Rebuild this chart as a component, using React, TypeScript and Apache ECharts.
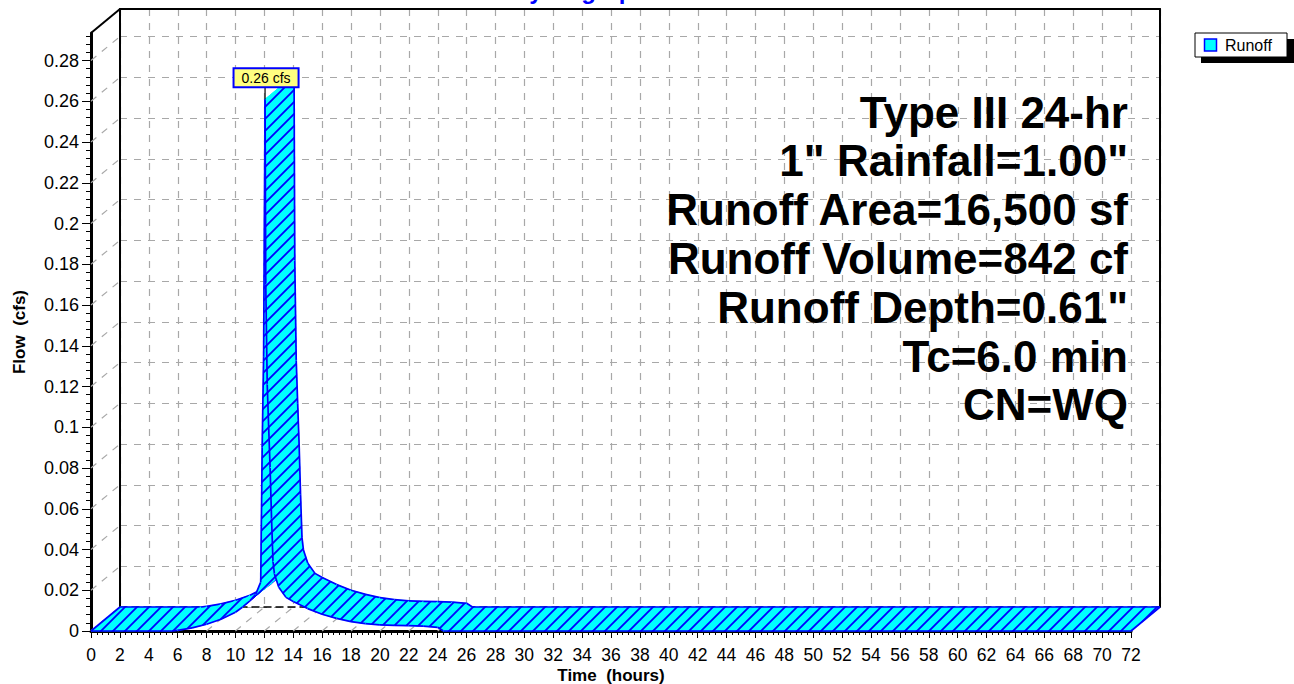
import React, { useEffect, useRef } from "react";
import * as echarts from "echarts";

// ---------------- data ----------------
const timeHours = [0, 5.6, 6.0, 7.0, 8.0, 9.0, 10.0, 10.5, 11.0, 11.4, 11.75, 11.85, 11.95, 12.05, 12.1, 12.2, 12.3, 12.4, 12.5, 12.6, 12.7, 13.0, 13.5, 14.0, 15.0, 16.0, 17.0, 18.0, 19.0, 20.0, 21.0, 22.0, 23.0, 24.0, 24.4, 72];
const flowCfs = [0, 0, 0.0003, 0.0015, 0.0033, 0.0058, 0.0092, 0.0118, 0.0148, 0.018, 0.024, 0.09, 0.135, 0.261, 0.17, 0.121, 0.1, 0.08, 0.055, 0.034, 0.028, 0.0215, 0.0165, 0.0145, 0.011, 0.0082, 0.0062, 0.0046, 0.0036, 0.003, 0.0028, 0.0026, 0.0024, 0.0018, 0, 0];
const xTickHours = [0, 2, 4, 6, 8, 10, 12, 14, 16, 18, 20, 22, 24, 26, 28, 30, 32, 34, 36, 38, 40, 42, 44, 46, 48, 50, 52, 54, 56, 58, 60, 62, 64, 66, 68, 70, 72];
const yTickCfs = [0, 0.02, 0.04, 0.06, 0.08, 0.1, 0.12, 0.14, 0.16, 0.18, 0.2, 0.22, 0.24, 0.26, 0.28];
const infoLines = ["Type III 24-hr", '1" Rainfall=1.00"', "Runoff Area=16,500 sf", "Runoff Volume=842 cf", 'Runoff Depth=0.61"', "Tc=6.0 min", "CN=WQ"];
const seriesName = "Runoff";
const chartTitle = "Hydrograph";
const xAxisTitle = "Time  (hours)";
const yAxisTitle = "Flow  (cfs)";
const peakUnit = "cfs";

// ---------------- layout ----------------
const FRONT_LEFT = 91;
const FRONT_TOP = 33;
const PLOT_W = 1040;
const PLOT_H = 598;
const DEPTH_X = 29;
const DEPTH_Y = 24;
const X_MAX = 72;
const Y_MAX = 0.2935;
const FONT = "'Liberation Sans', Arial, Helvetica, sans-serif";
const BLUE = "#0000FF";
const CYAN = "#00FFFF";
const GRID_GRAY = "#a8a8a8";

function makeHatch(): string {
  const c = document.createElement("canvas");
  c.width = 12;
  c.height = 12;
  const g = c.getContext("2d")!;
  g.fillStyle = CYAN;
  g.fillRect(0, 0, 12, 12);
  g.strokeStyle = BLUE;
  g.lineWidth = 1.8;
  g.beginPath();
  g.moveTo(-2, 2); g.lineTo(2, -2);
  g.moveTo(-2, 14); g.lineTo(14, -2);
  g.moveTo(10, 14); g.lineTo(14, 10);
  g.stroke();
  return c.toDataURL();
}

export default function App() {
  const ref = useRef<HTMLDivElement>(null);

  useEffect(() => {
    if (!ref.current) return;
    const chart = echarts.init(ref.current, undefined, { renderer: "svg" });
    const hatch = { image: makeHatch(), repeat: "repeat", imageWidth: 12, imageHeight: 12 };

    const segments: number[][] = [];
    for (let i = 0; i < timeHours.length - 1; i++) {
      segments.push([timeHours[i], flowCfs[i], timeHours[i + 1], flowCfs[i + 1]]);
    }
    const nSeg = segments.length;

    let peakIdx = 0;
    flowCfs.forEach((v, i) => { if (v > flowCfs[peakIdx]) peakIdx = i; });

    const frameData: number[][] = [
      ...xTickHours.map((t) => [t, 0, 0]),
      ...yTickCfs.map((v) => [0, v, 1]),
      [0, Y_MAX, 2],
    ];

    const edge = (a: number[], b: number[]) => ({
      type: "line",
      shape: { x1: a[0], y1: a[1], x2: b[0], y2: b[1] },
      style: { stroke: BLUE, lineWidth: 1.7 },
    });

    const option: any = {
      animation: false,
      textStyle: { fontFamily: FONT },
      grid: [
        { left: FRONT_LEFT, top: FRONT_TOP, width: PLOT_W, height: PLOT_H },
        { left: FRONT_LEFT + DEPTH_X, top: FRONT_TOP - DEPTH_Y, width: PLOT_W, height: PLOT_H },
      ],
      xAxis: [
        {
          gridIndex: 0, type: "value", min: 0, max: X_MAX, interval: 2,
          axisLine: { show: true, lineStyle: { color: "#000", width: 3 } },
          axisTick: { show: true, length: 7, lineStyle: { color: "#000", width: 1 } },
          minorTick: { show: true, splitNumber: 5, length: 4, lineStyle: { color: "#000", width: 1 } },
          axisLabel: { margin: 15, fontSize: 17.5, color: "#000", fontFamily: FONT },
          splitLine: { show: false },
        },
        {
          gridIndex: 1, type: "value", min: 0, max: X_MAX, interval: 2,
          axisLine: { show: true, lineStyle: { color: "#000", width: 1.5, type: [7, 5] } },
          axisTick: { show: false }, axisLabel: { show: false },
          splitLine: { show: true, lineStyle: { color: GRID_GRAY, width: 1.2, type: [7, 7] } },
        },
        {
          gridIndex: 1, type: "value", min: 0, max: X_MAX, position: "top",
          axisLine: { show: true, onZero: false, lineStyle: { color: "#000", width: 2 } },
          axisTick: { show: false }, axisLabel: { show: false }, splitLine: { show: false },
        },
      ],
      yAxis: [
        {
          gridIndex: 0, type: "value", min: 0, max: Y_MAX, interval: 0.02,
          axisLine: { show: true, lineStyle: { color: "#000", width: 3 } },
          axisTick: { show: true, length: 9, customValues: yTickCfs, lineStyle: { color: "#000", width: 1 } },
          minorTick: { show: true, splitNumber: 5, length: 5, lineStyle: { color: "#000", width: 1 } },
          axisLabel: { margin: 12, fontSize: 18, color: "#000", customValues: yTickCfs, fontFamily: FONT },
          splitLine: { show: false },
        },
        {
          gridIndex: 1, type: "value", min: 0, max: Y_MAX, interval: 0.02,
          axisLine: { show: true, lineStyle: { color: "#000", width: 2 } },
          axisTick: { show: false }, axisLabel: { show: false },
          splitLine: { show: true, lineStyle: { color: GRID_GRAY, width: 1.2, type: [7, 7] } },
        },
        {
          gridIndex: 1, type: "value", min: 0, max: Y_MAX, position: "right",
          axisLine: { show: true, onZero: false, lineStyle: { color: "#000", width: 2 } },
          axisTick: { show: false }, axisLabel: { show: false }, splitLine: { show: false },
        },
      ],
      series: [
        {
          name: "frame",
          type: "custom",
          xAxisIndex: 0, yAxisIndex: 0,
          clip: false, silent: true, z: 1,
          data: frameData,
          encode: { x: 0, y: 1 },
          renderItem: (params: any, api: any) => {
            const p = api.coord([api.value(0), api.value(1)]);
            const kind = api.value(2);
            return {
              type: "line",
              shape: { x1: p[0], y1: p[1], x2: p[0] + DEPTH_X, y2: p[1] - DEPTH_Y },
              style: kind === 2
                ? { stroke: "#000", lineWidth: 2 }
                : { stroke: GRID_GRAY, lineWidth: 1.2, lineDash: [7, 7] },
            };
          },
        },
        {
          name: seriesName,
          type: "custom",
          xAxisIndex: 0, yAxisIndex: 0,
          clip: false, z: 3,
          dimensions: ["t0", "v0", "t1", "v1"],
          encode: { x: [0, 2], y: [1, 3] },
          data: segments,
          renderItem: (params: any, api: any) => {
            const a = api.coord([api.value(0), api.value(1)]);
            const b = api.coord([api.value(2), api.value(3)]);
            const a2 = [a[0] + DEPTH_X, a[1] - DEPTH_Y];
            const b2 = [b[0] + DEPTH_X, b[1] - DEPTH_Y];
            const children: any[] = [
              {
                type: "polygon",
                shape: { points: [a, b, b2, a2] },
                style: { fill: hatch, stroke: hatch, lineWidth: 0.8 },
              },
              edge(a, b),
              edge(a2, b2),
            ];
            if (params.dataIndex === 0) children.push(edge(a, a2));
            if (params.dataIndex === nSeg - 1) children.push(edge(b, b2));
            return { type: "group", children };
          },
        },
        {
          name: "peak",
          type: "custom",
          xAxisIndex: 0, yAxisIndex: 0,
          clip: false, z: 10,
          data: [[timeHours[peakIdx], flowCfs[peakIdx]]],
          encode: { x: 0, y: 1 },
          renderItem: (params: any, api: any) => {
            const v = api.value(1);
            const p = api.coord([api.value(0), v]);
            return {
              type: "group",
              children: [
                { type: "line", shape: { x1: p[0], y1: p[1], x2: p[0], y2: p[1] - 13 }, style: { stroke: "#000", lineWidth: 1.2 } },
                {
                  type: "text",
                  style: {
                    text: `${v.toFixed(2)} ${peakUnit}`,
                    x: p[0] + 1, y: p[1] - 13,
                    align: "center", verticalAlign: "bottom",
                    font: `14px ${FONT}`, fill: "#000",
                    backgroundColor: "#FFFF80", borderColor: BLUE, borderWidth: 2,
                    padding: [2, 7, 1, 7],
                  },
                },
              ],
            };
          },
        },
      ],
      graphic: [
        {
          type: "text", z: 100, silent: true,
          style: { text: chartTitle, x: 580, y: 2, align: "center", verticalAlign: "bottom", font: `bold 24px ${FONT}`, fill: BLUE },
        },
        {
          type: "text", z: 100, silent: true,
          style: { text: xAxisTitle, x: FRONT_LEFT + PLOT_W / 2, y: 675, align: "center", verticalAlign: "middle", font: `bold 17px ${FONT}`, fill: "#000" },
        },
        {
          type: "text", z: 100, silent: true, x: 19, y: FRONT_TOP + PLOT_H / 2, rotation: Math.PI / 2,
          style: { text: yAxisTitle, x: 0, y: 0, align: "center", verticalAlign: "middle", font: `bold 17px ${FONT}`, fill: "#000" },
        },
        ...infoLines.map((line, i) => ({
          type: "text", z: 100, silent: true,
          style: { text: line, x: 1128, y: 112 + i * 48.8, align: "right", verticalAlign: "middle", font: `bold 44px ${FONT}`, fill: "#000" },
        })),
        { type: "rect", z: 100, silent: true, shape: { x: 1201, y: 39, width: 93, height: 24 }, style: { fill: "#000" } },
        { type: "rect", z: 101, silent: true, shape: { x: 1195, y: 33, width: 92, height: 24 }, style: { fill: "#fff", stroke: "#000", lineWidth: 1 } },
        { type: "rect", z: 102, silent: true, shape: { x: 1204.5, y: 39, width: 12, height: 12 }, style: { fill: CYAN, stroke: BLUE, lineWidth: 1.5 } },
        {
          type: "text", z: 102, silent: true,
          style: { text: seriesName, x: 1225, y: 45.5, align: "left", verticalAlign: "middle", font: `16px ${FONT}`, fill: "#000" },
        },
      ],
    };

    chart.setOption(option);
    return () => chart.dispose();
  }, []);

  return (
    <div
      ref={ref}
      style={{ position: "absolute", left: 0, top: 0, width: 1294, height: 684, background: "#fff" }}
    />
  );
}
